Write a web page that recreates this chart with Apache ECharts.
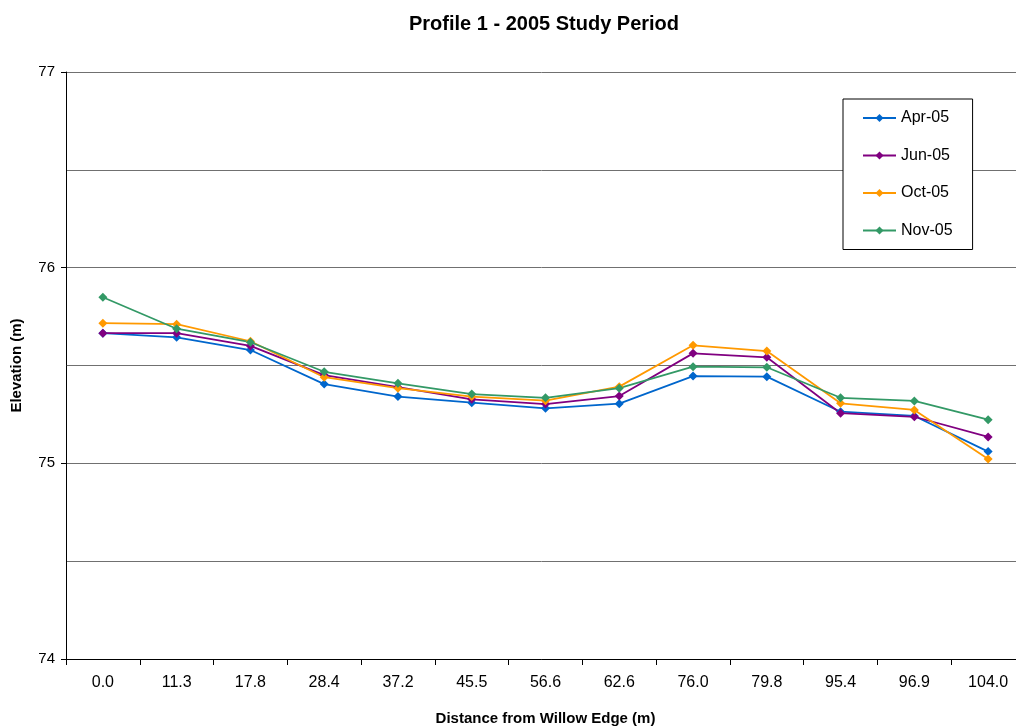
<!DOCTYPE html>
<html>
<head>
<meta charset="utf-8">
<script src="https://cdn.jsdelivr.net/npm/echarts@6/dist/echarts.min.js"></script>
<style>html,body{margin:0;padding:0;background:#fff}#c{width:1016px;height:726px}</style>
</head>
<body>
<div id="c"></div>
<script>
const categories = ['0.0','11.3','17.8','28.4','37.2','45.5','56.6','62.6','76.0','79.8','95.4','96.9','104.0'];
const apr05 = [75.665,75.644,75.579,75.405,75.341,75.310,75.281,75.305,75.446,75.443,75.264,75.242,75.060];
const jun05 = [75.665,75.665,75.600,75.451,75.389,75.327,75.303,75.344,75.562,75.542,75.256,75.238,75.135];
const oct05 = [75.716,75.711,75.624,75.440,75.384,75.341,75.320,75.392,75.603,75.574,75.307,75.273,75.022];
const nov05 = [75.849,75.688,75.619,75.468,75.409,75.354,75.335,75.384,75.494,75.491,75.335,75.319,75.223];
const seriesNames = ['Apr-05','Jun-05','Oct-05','Nov-05'];
const seriesColors = ['#0066CC','#800080','#FF9900','#339966'];
const seriesData = [apr05, jun05, oct05, nov05];

const font = 'Liberation Sans, Arial, sans-serif';
const chart = echarts.init(document.getElementById('c'));
chart.setOption({
  animation: false,
  backgroundColor: '#fff',
  title: {
    text: 'Profile 1 - 2005 Study Period',
    left: 539, top: 9, textAlign: 'center',
    textStyle: {fontFamily: font, fontSize: 20, fontWeight: 'bold', color: '#000'}
  },
  legend: {
    orient: 'vertical',
    left: 843, top: 99,
    width: 129,
    padding: [11, 20, 11, 19],
    itemGap: 21.5,
    itemWidth: 33, itemHeight: 10,
    borderColor: '#000', borderWidth: 1,
    backgroundColor: '#fff',
    textStyle: {fontFamily: font, fontSize: 16, color: '#000'},
    data: seriesNames
  },
  grid: {left: 66, top: 72, right: -9, bottom: 67, containLabel: false, outerBoundsMode: 'none'},
  xAxis: {
    type: 'category',
    data: categories,
    boundaryGap: true,
    name: 'Distance from Willow Edge (m)',
    nameLocation: 'middle',
    nameGap: 52,
    nameTextStyle: {fontFamily: font, fontSize: 15, fontWeight: 'bold', color: '#000'},
    axisLine: {lineStyle: {color: '#000', width: 1}},
    axisTick: {show: true, length: 6, lineStyle: {color: '#000'}},
    axisLabel: {fontFamily: font, fontSize: 16, color: '#000', margin: 16},
    splitLine: {show: false}
  },
  yAxis: {
    type: 'value',
    min: 74, max: 77, interval: 1,
    name: 'Elevation (m)',
    nameLocation: 'middle',
    nameGap: 42,
    nameRotate: 90,
    nameTextStyle: {fontFamily: font, fontSize: 15, fontWeight: 'bold', color: '#000'},
    axisLine: {show: true, lineStyle: {color: '#000', width: 1}},
    axisTick: {show: true, length: 5, lineStyle: {color: '#000'}},
    axisLabel: {fontFamily: font, fontSize: 15, color: '#000', margin: 11},
    splitLine: {show: true, lineStyle: {color: '#707070', width: 1}},
    minorTick: {show: false, splitNumber: 2},
    minorSplitLine: {show: true, lineStyle: {color: '#707070', width: 1}}
  },
  series: seriesNames.map((n, i) => ({
    name: n,
    type: 'line',
    data: seriesData[i],
    symbol: 'diamond',
    symbolSize: 9,
    showAllSymbol: true,
    lineStyle: {color: seriesColors[i], width: 1.75},
    itemStyle: {color: seriesColors[i]},
    emphasis: {disabled: true}
  }))
});
</script>
</body>
</html>
